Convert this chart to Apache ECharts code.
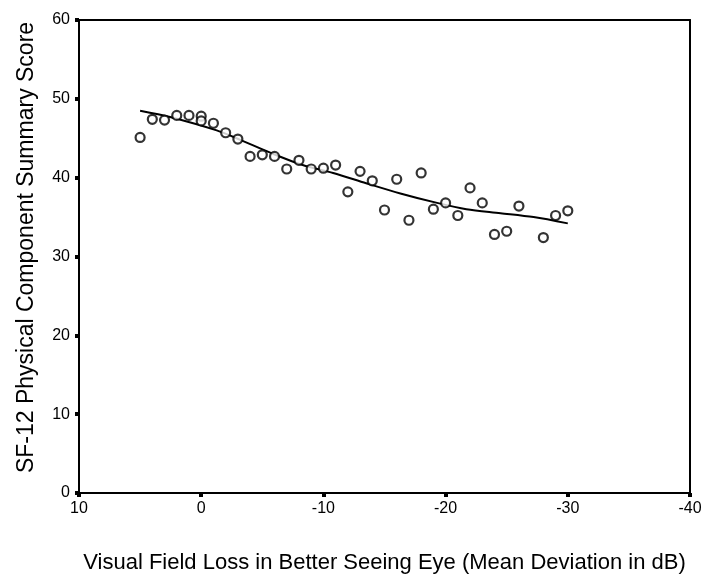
<!DOCTYPE html>
<html>
<head>
<meta charset="utf-8">
<script src="https://cdn.jsdelivr.net/npm/echarts@6/dist/echarts.min.js"></script>
<style>
html,body{margin:0;padding:0;background:#fff;}
#chart{width:711px;height:585px;}
</style>
</head>
<body>
<div id="chart"></div>
<script>
// Scatter: mean deviation (dB) vs SF-12 PCS
const mdX = [5, 4, 3, 2, 1, 0, 0, -1, -2, -3, -4, -5, -6, -7, -8, -9, -10, -11, -12, -13, -14, -15, -16, -17, -18, -19, -20, -21, -22, -23, -24, -25, -26, -28, -29, -30];
const pcsY = [45.1, 47.4, 47.3, 47.9, 47.9, 47.8, 47.2, 46.9, 45.7, 44.9, 42.7, 42.9, 42.7, 41.1, 42.2, 41.1, 41.2, 41.6, 38.2, 40.8, 39.6, 35.9, 39.8, 34.6, 40.6, 36.0, 36.8, 35.2, 38.7, 36.8, 32.8, 33.2, 36.4, 32.4, 35.2, 35.8];
// Smoothed fit line
const fitX = [5.0, 2.55, -1.27, -3.2, -5.6, -8.3, -10.8, -13.5, -16.3, -19.3, -21.7, -24.5, -27.2, -30.0];
const fitY = [48.5, 47.7, 46.0, 44.8, 43.2, 41.6, 40.6, 39.3, 38.0, 36.8, 36.0, 35.5, 35.0, 34.2];
// Axis ticks
const xMin = -40, xMax = 10, xStep = 10;
const yMin = 0, yMax = 60, yStep = 10;
const xTitle = 'Visual Field Loss in Better Seeing Eye (Mean Deviation in dB)';
const yTitle = 'SF-12 Physical Component Summary Score';

const chart = echarts.init(document.getElementById('chart'), null, {renderer: 'canvas'});
const font = 'Liberation Sans, Arial, sans-serif';
const axisLine = {show: true, onZero: false, lineStyle: {color: '#000', width: 2}};
chart.setOption({
  backgroundColor: '#fff',
  animation: false,
  grid: {left: 79, right: 21, top: 20, bottom: 92, containLabel: false},
  xAxis: [{
    type: 'value', min: xMin, max: xMax, interval: xStep, inverse: true,
    position: 'bottom',
    axisLine: axisLine,
    axisTick: {show: true, length: 4, lineStyle: {color: '#000', width: 4}},
    axisLabel: {color: '#000', fontFamily: font, fontSize: 16, margin: 8},
    splitLine: {show: false},
    name: xTitle, nameLocation: 'middle', nameGap: 59,
    nameTextStyle: {color: '#000', fontFamily: font, fontSize: 22}
  }, {
    type: 'value', min: xMin, max: xMax, interval: xStep, inverse: true,
    position: 'top',
    axisLine: axisLine, axisTick: {show: false}, axisLabel: {show: false}, splitLine: {show: false}
  }],
  yAxis: [{
    type: 'value', min: yMin, max: yMax, interval: yStep,
    position: 'left',
    axisLine: axisLine,
    axisTick: {show: true, length: 4, lineStyle: {color: '#000', width: 4}},
    axisLabel: {color: '#000', fontFamily: font, fontSize: 16, margin: 9},
    splitLine: {show: false},
    name: yTitle, nameLocation: 'middle', nameGap: 41,
    nameTextStyle: {color: '#000', fontFamily: font, fontSize: 23, padding: [0, 0, 0, 18]}
  }, {
    type: 'value', min: yMin, max: yMax, interval: yStep,
    position: 'right',
    axisLine: axisLine, axisTick: {show: false}, axisLabel: {show: false}, splitLine: {show: false}
  }],
  series: [{
    type: 'line',
    data: fitX.map((x, i) => [x, fitY[i]]),
    smooth: 0.3,
    symbol: 'none',
    lineStyle: {color: '#000', width: 2},
    z: 2
  }, {
    type: 'scatter',
    data: mdX.map((x, i) => [x, pcsY[i]]),
    symbol: 'circle',
    symbolSize: 9,
    itemStyle: {color: '#fff', borderColor: '#000', borderWidth: 2.2},
    z: 3
  }]
});
</script>
</body>
</html>
